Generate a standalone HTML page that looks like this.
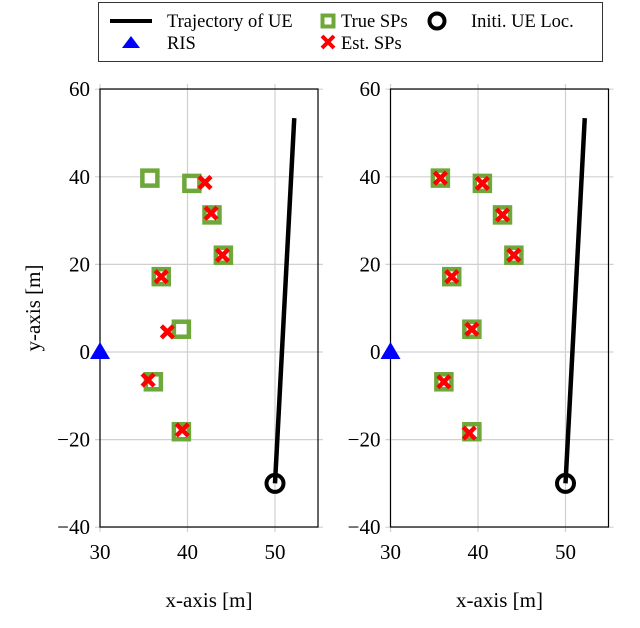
<!DOCTYPE html>
<html><head><meta charset="utf-8"><style>
html,body{margin:0;padding:0;background:#fff;}
svg text{font-family:"Liberation Serif",serif;fill:#000;}
</style></head><body>
<svg id="chart" width="640" height="623" viewBox="0 0 640 623">
<g>
<rect x="98.5" y="2.5" width="504" height="59" fill="#fff" stroke="#333" stroke-width="1"/>
<line x1="110" y1="21" x2="152" y2="21" stroke="#000" stroke-width="4"/>
<text x="167" y="27" font-size="18.5">Trajectory of UE</text>
<rect x="322.5" y="15.5" width="11" height="11" fill="#fff" stroke="#6ea83a" stroke-width="4"/>
<text x="341" y="27" font-size="18.5">True SPs</text>
<circle cx="437" cy="21" r="7.5" fill="none" stroke="#000" stroke-width="4"/>
<text x="471" y="27" font-size="18.5">Initi. UE Loc.</text>
<polygon points="131,36 140,48 122,48" fill="#0000ff"/>
<text x="167" y="49" font-size="18.5">RIS</text>
<g stroke="#ff0000" stroke-width="4"><line x1="322" y1="36" x2="334" y2="48"/><line x1="334" y1="36" x2="322" y2="48"/></g>
<text x="341" y="49" font-size="18.5">Est. SPs</text>
</g>
<text transform="translate(40,308) rotate(-90)" text-anchor="middle" font-size="21">y-axis [m]</text>
</svg>
<script>
const xTicks = [30, 40, 50];
const yTicks = [-40, -20, 0, 20, 40, 60];
const trueX = [35.7, 40.5, 42.8, 44.1, 37.0, 39.3, 36.1, 39.3];
const trueY = [39.7, 38.5, 31.3, 22.1, 17.2, 5.2, -6.8, -18.2];
const estLeftX = [42.0, 42.7, 44.0, 37.0, 37.7, 35.5, 39.4, 35.7];
const estLeftY = [38.7, 31.7, 22.1, 17.2, 4.6, -6.4, -17.8, 39.7];
const estLeftShow = [1,1,1,1,1,1,1,0];
const estRightX = [35.7, 40.5, 42.8, 44.1, 37.0, 39.3, 36.1, 39.0];
const estRightY = [39.7, 38.5, 31.3, 22.1, 17.2, 5.2, -6.8, -18.5];
const trajX = [50.0, 52.2];
const trajY = [-30.0, 53.4];
const risX = [30];
const risY = [0];
const initX = [50];
const initY = [-30];

const NS = "http://www.w3.org/2000/svg";
const svg = document.getElementById('chart');
function mk(tag, attrs, parent){const e=document.createElementNS(NS,tag);for(const k in attrs)e.setAttribute(k,attrs[k]);(parent||svg).appendChild(e);return e;}

function panel(left, name, estX, estY, estShow){
  const right = left + 218, top = 89, bottom = 527;
  const sx = v => left + (v - 30) * 8.75;
  const sy = v => 352 - v * 4.38;
  const g = mk('g', {});
  
  
  const clip = mk('clipPath', {id: 'clip-' + name}, g);
  mk('rect', {x: left, y: top, width: right-left, height: bottom-top}, clip);
  xTicks.forEach(t => {
    const l = mk('line', {x1: sx(t), x2: sx(t), y1: top-5, y2: bottom+5, stroke: '#d0d0d0', 'stroke-width': 1.2}, g);
    
    
    const tx = mk('text', {x: sx(t), y: bottom+32, 'text-anchor': 'middle', 'font-size': 21}, g);
    tx.textContent = String(t).replace('-', '\u2212');
    
    
  });
  yTicks.forEach(t => {
    const l = mk('line', {x1: left-5, x2: right+5, y1: sy(t), y2: sy(t), stroke: '#d0d0d0', 'stroke-width': 1.2}, g);
    
    
    const tx = mk('text', {x: left-10, y: sy(t)+7, 'text-anchor': 'end', 'font-size': 21}, g);
    tx.textContent = String(t).replace('-', '\u2212');
    
    
  });
  const fr = mk('rect', {x: left, y: top, width: right-left, height: bottom-top, fill: 'none', stroke: '#000', 'stroke-width': 1.2}, g);
  
  
  const xl = mk('text', {x: (left+right)/2, y: 607, 'text-anchor': 'middle', 'font-size': 21}, g);
  xl.textContent = 'x-axis [m]';
  
  
  const inner = mk('g', {'clip-path': 'url(#clip-' + name + ')'}, g);
  const tr = mk('polyline', {points: trajX.map((v,i)=>sx(v)+','+sy(trajY[i])).join(' '), fill: 'none', stroke: '#000', 'stroke-width': 4.5}, inner);
  
  
  trueX.forEach((v,i) => {
    const r = mk('rect', {x: sx(v)-7.5, y: sy(trueY[i])-7.5, width: 15, height: 15, fill: '#fff', stroke: '#6ea83a', 'stroke-width': 4.5}, g);
    
    
  });
  estX.forEach((v,i) => {
    if (estShow && !estShow[i]) return;
    const cx = sx(v), cy = sy(estY[i]);
    const x = mk('path', {d: `M${cx-6},${cy-6}L${cx+6},${cy+6}M${cx+6},${cy-6}L${cx-6},${cy+6}`, stroke: '#ff0000', 'stroke-width': 4.5}, g);
    
    
  });
  risX.forEach((v,i) => {
    const cx = sx(v), cy = sy(risY[i]);
    const p = mk('polygon', {points: `${cx},${cy-10} ${cx+10},${cy+7} ${cx-10},${cy+7}`, fill: '#0000ff'}, g);
    
    
  });
  initX.forEach((v,i) => {
    const c = mk('circle', {cx: sx(v), cy: sy(initY[i]), r: 8.5, fill: 'none', stroke: '#000', 'stroke-width': 4}, g);
    
    
  });
}
panel(100, 'left-panel', estLeftX, estLeftY, estLeftShow);
panel(390.5, 'right-panel', estRightX, estRightY, null);
</script>
</body></html>
